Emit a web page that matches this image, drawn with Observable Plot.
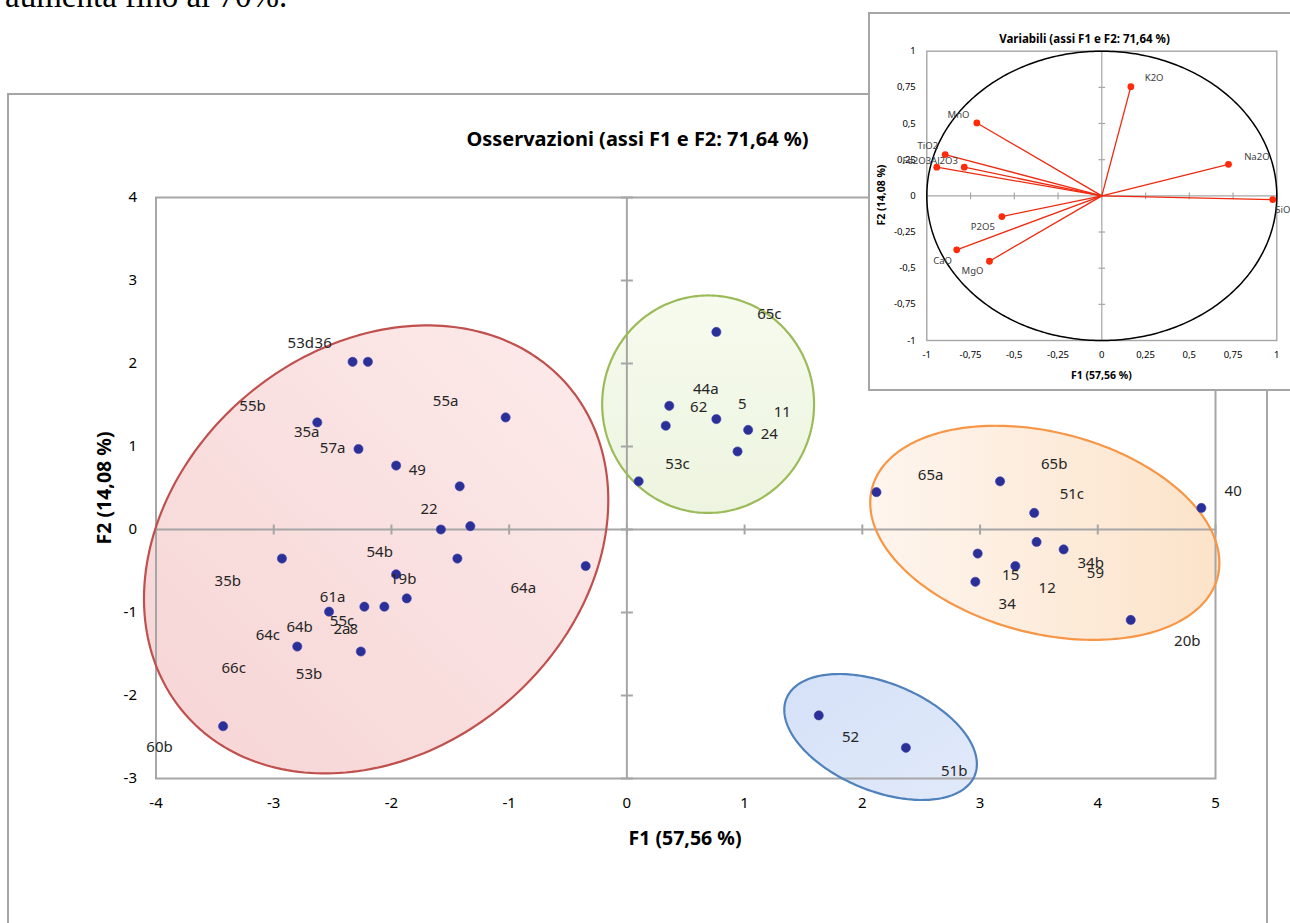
<!DOCTYPE html>
<html><head><meta charset="utf-8">
<script src="https://cdn.jsdelivr.net/npm/d3@7"></script>
<script src="https://cdn.jsdelivr.net/npm/@observablehq/plot@0.6"></script>
<style>
html,body{margin:0;padding:0;background:#fff;width:1290px;height:923px;overflow:hidden;}
#page{position:relative;width:1290px;height:923px;overflow:hidden;font-family:"Noto Sans",sans-serif;}
.abs{position:absolute;white-space:nowrap;}
.rot{transform:translate(-50%,-50%) rotate(-90deg);}
.ctr{transform:translate(-50%,-50%);}
#main svg, #inset svg{max-width:none !important;}
</style></head><body><div id="page">
<div class="abs" style="left:5px;top:-20px;font-family:'Liberation Serif',serif;font-size:33px;line-height:33px;color:#000">aumenta fino al 70%.</div>
<div class="abs" style="left:7px;top:93px;width:1257px;height:900px;border:2px solid #A6A6A6;"></div>
<div id="main" class="abs" style="left:0;top:0;width:1290px;height:923px"></div>
<div class="abs ctr" style="left:637.5px;top:138px;font-weight:bold;font-size:20px;color:#000">Osservazioni (assi F1 e F2: 71,64 %)</div>
<div class="abs rot" style="left:103px;top:487.5px;font-weight:bold;font-size:19.5px;color:#000">F2 (14,08 %)</div>
<div class="abs ctr" style="left:685px;top:837px;font-weight:bold;font-size:19.5px;color:#000">F1 (57,56 %)</div>
<div class="abs" style="left:868px;top:12px;width:440px;height:375px;border:2px solid #A6A6A6;background:#fff;"></div>
<div id="inset" class="abs" style="left:868px;top:0;width:440px;height:400px"></div>
<div class="abs ctr" style="left:1084.5px;top:37.5px;font-weight:bold;font-size:11.5px;color:#000">Variabili (assi F1 e F2: 71,64 %)</div>
<div class="abs rot" style="left:880.7px;top:195px;font-weight:bold;font-size:10.5px;color:#000">F2 (14,08 %)</div>
<div class="abs ctr" style="left:1101.3px;top:375px;font-weight:bold;font-size:10.5px;color:#000">F1 (57,56 %)</div>
</div>
<script>
// ---------- Observations (main chart) ----------
const xTicks = [-4,-3,-2,-1,0,1,2,3,4,5];
const yTicks = [-3,-2,-1,0,1,2,3,4];

const obsF1 = [-2.33,-2.20,-2.63,-2.28,-1.96,-1.03,-1.42,-1.58,-1.33,-2.93,-1.44,-0.35,-1.96,-1.87,-2.23,-2.06,-2.53,-2.80,-2.26,-3.43,
               0.76,0.36,0.33,0.76,1.03,0.94,0.10,
               2.12,3.17,3.46,4.88,3.48,3.71,2.98,3.30,2.96,4.28,
               1.63,2.37];
const obsF2 = [2.02,2.02,1.29,0.97,0.77,1.35,0.52,0.00,0.04,-0.35,-0.35,-0.44,-0.54,-0.83,-0.93,-0.93,-0.99,-1.41,-1.47,-2.37,
               2.38,1.49,1.25,1.33,1.20,0.94,0.58,
               0.45,0.58,0.20,0.26,-0.15,-0.24,-0.29,-0.44,-0.63,-1.09,
               -2.24,-2.63];

const lblText = ["53d","36","55b","55a","35a","57a","49","22","54b","19b","35b","64a","61a","55c","2a","8","64c","64b","66c","53b","60b",
                 "65c","44a","62","5","11","24","53c",
                 "65a","65b","51c","40","34b","59","15","12","34","20b",
                 "52","51b"];
const lblF1 = [-2.77,-2.58,-3.18,-1.54,-2.72,-2.50,-1.78,-1.68,-2.10,-1.90,-3.39,-0.88,-2.50,-2.42,-2.42,-2.32,-3.05,-2.78,-3.34,-2.70,-3.97,
               1.21,0.67,0.61,0.98,1.32,1.21,0.43,
               2.58,3.63,3.78,5.15,3.94,3.98,3.26,3.57,3.23,4.76,
               1.90,2.78];
const lblF2 = [2.25,2.24,1.48,1.55,1.17,0.98,0.72,0.24,-0.27,-0.60,-0.62,-0.71,-0.81,-1.10,-1.20,-1.20,-1.27,-1.18,-1.67,-1.74,-2.62,
               2.59,1.69,1.47,1.51,1.41,1.15,0.79,
               0.66,0.79,0.42,0.46,-0.41,-0.53,-0.55,-0.71,-0.90,-1.35,
               -2.50,-2.91];

// group ellipses: centre, half extents, correlation
const grpName   = ["red","green","orange","blue"];
const grpCx     = [-2.13, 0.69, 3.55, 2.155];
const grpCy     = [-0.24, 1.51, -0.04, -2.50];
const grpAx     = [1.972, 0.90, 1.483, 0.818];
const grpAy     = [2.699, 1.31, 1.29, 0.759];
const grpRho    = [0.22, 0.0, -0.28, -0.43];
const grpStroke = ["#C0504D","#9BBB59","#F79646","#4F81BD"];
const grpFillA  = ["#F6D4D4","#F6FBEE","#FEF5EE","#D5E1F8"];
const grpFillB  = ["#FDEBEB","#EDF4DF","#FCE3C9","#E1EAFA"];
const grpGrad   = [[0,1,1,0],[0,0,0,1],[0,0,1,0],[0,0,1,1]];

// ---------- Variables (inset) ----------
const vTicks = [-1,-0.75,-0.5,-0.25,0,0.25,0.5,0.75,1];
const varName = ["K2O","MnO","TiO2","Fe2O3","Al2O3","Na2O","SiO2","P2O5","CaO","MgO"];
const varF1 = [0.166,-0.714,-0.895,-0.943,-0.786,0.724,0.977,-0.571,-0.829,-0.642];
const varF2 = [0.755,0.504,0.285,0.198,0.198,0.218,-0.026,-0.143,-0.373,-0.452];
const varLblF1 = [0.299,-0.819,-0.994,-1.057,-0.899,0.886,1.05,-0.680,-0.910,-0.739];
const varLblF2 = [0.813,0.557,0.343,0.244,0.244,0.267,-0.095,-0.217,-0.447,-0.521];

// ---------- helpers ----------
const fmt = d => (d < 0 ? "-" : "") + String(Math.abs(d)).replace(".", ",");
const vTickSym = {draw(ctx, size){ const r = Math.sqrt(size/Math.PI); ctx.moveTo(0,-r); ctx.lineTo(0,r); }};
const hTickSym = {draw(ctx, size){ const r = Math.sqrt(size/Math.PI); ctx.moveTo(-r,0); ctx.lineTo(r,0); }};

const points = obsF1.map((x,i) => ({x, y: obsF2[i]}));
const labels = lblText.map((t,i) => ({t, x: lblF1[i], y: lblF2[i]}));
const ellipses = grpName.map((g,k) => {
  const phi = Math.acos(grpRho[k]);
  return d3.range(240).map(i => {
    const t = 2*Math.PI*i/240;
    return {g, x: grpCx[k] + grpAx[k]*Math.cos(t), y: grpCy[k] + grpAy[k]*Math.cos(t - phi)};
  });
});

function gradDefs() {
  const defs = d3.create("svg:defs");
  grpName.forEach((g,k) => {
    const lg = defs.append("linearGradient").attr("id","grad-"+g)
      .attr("x1",grpGrad[k][0]).attr("y1",grpGrad[k][1]).attr("x2",grpGrad[k][2]).attr("y2",grpGrad[k][3]);
    lg.append("stop").attr("offset","0").attr("stop-color",grpFillA[k]);
    lg.append("stop").attr("offset","1").attr("stop-color",grpFillB[k]);
  });
  return defs.node();
}

const AX = "#A6A6A6";
const mainMarks = [gradDefs];
ellipses.forEach((pts,k) => mainMarks.push(Plot.line(pts, {x:"x", y:"y", curve:"linear-closed", fill:"url(#grad-"+grpName[k]+")", stroke:"none"})));
mainMarks.push(
  Plot.frame({stroke: AX, strokeWidth: 2}),
  Plot.ruleX([0], {stroke: AX, strokeWidth: 2}),
  Plot.ruleY([0], {stroke: AX, strokeWidth: 2}),
  Plot.dot(xTicks, {x: d => d, y: () => 0, symbol: vTickSym, r: 5, stroke: AX, strokeWidth: 2, fill: "none"}),
  Plot.dot(yTicks, {x: () => 0, y: d => d, symbol: hTickSym, r: 6, stroke: AX, strokeWidth: 2, fill: "none"})
);
ellipses.forEach((pts,k) => mainMarks.push(Plot.line(pts, {x:"x", y:"y", curve:"linear-closed", stroke: grpStroke[k], strokeWidth: 2.2, fill:"none"})));
mainMarks.push(
  Plot.dot(points, {x:"x", y:"y", r: 4.6, fill: "#2B2F98", stroke: "#3A3FA8", strokeWidth: 0.6}),
  Plot.text(labels, {x:"x", y:"y", text:"t", fontSize: 15, fill: "#262626", fontFamily: "Noto Sans"})
);

const main = Plot.plot({
  width: 1290, height: 923,
  marginLeft: 155.5, marginRight: 75, marginTop: 197, marginBottom: 145,
  x: {domain: [-4,5], ticks: xTicks, tickFormat: fmt, tickSize: 0, tickPadding: 19, label: null},
  y: {domain: [-3,4], ticks: yTicks, tickFormat: fmt, tickSize: 0, tickPadding: 19, label: null},
  style: {fontFamily: "Noto Sans", fontSize: "15px", color: "#000", background: "transparent", overflow: "visible", maxWidth: "none"},
  marks: mainMarks
});
document.getElementById("main").appendChild(main);

// ---------- inset ----------
const circle = d3.range(360).map(i => ({x: Math.cos(i*Math.PI/180), y: Math.sin(i*Math.PI/180)}));
const vars = varName.map((n,i) => ({n, x: varF1[i], y: varF2[i], lx: varLblF1[i], ly: varLblF2[i]}));

const inset = Plot.plot({
  width: 440, height: 400,
  marginLeft: 58.3, marginRight: 31.7, marginTop: 50.7, marginBottom: 60,
  x: {domain: [-1,1], ticks: vTicks, tickFormat: fmt, tickSize: 0, tickPadding: 11, label: null},
  y: {domain: [-1,1], ticks: vTicks, tickFormat: fmt, tickSize: 0, tickPadding: 11, label: null},
  style: {fontFamily: "Noto Sans", fontSize: "9.5px", color: "#000", background: "transparent", overflow: "visible", maxWidth: "none"},
  marks: [
    Plot.frame({stroke: AX, strokeWidth: 1.4}),
    Plot.ruleX([0], {stroke: AX, strokeWidth: 1.2}),
    Plot.ruleY([0], {stroke: AX, strokeWidth: 1.2}),
    Plot.dot(vTicks, {x: d => d, y: () => 0, symbol: vTickSym, r: 3.3, stroke: AX, strokeWidth: 1.2, fill: "none"}),
    Plot.dot(vTicks, {x: () => 0, y: d => d, symbol: hTickSym, r: 3.3, stroke: AX, strokeWidth: 1.2, fill: "none"}),
    Plot.line(circle, {x:"x", y:"y", curve: "linear-closed", stroke: "#000", strokeWidth: 1.5}),
    Plot.link(vars, {x1: () => 0, y1: () => 0, x2: "x", y2: "y", stroke: "#EE2A10", strokeWidth: 1.3}),
    Plot.dot(vars, {x: "x", y: "y", r: 3.4, fill: "#FF2A0A"}),
    Plot.text(vars, {x: "lx", y: "ly", text: "n", fontSize: 9.5, fill: "#404040", fontFamily: "Noto Sans"})
  ]
});
document.getElementById("inset").appendChild(inset);
</script>
</body></html>
